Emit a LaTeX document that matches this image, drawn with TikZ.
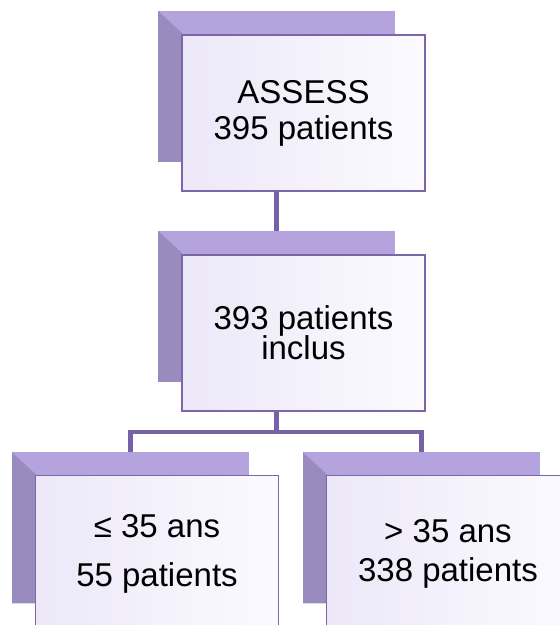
\documentclass[tikz,border=0pt]{standalone}
\usepackage{fontspec}
\setmainfont{Liberation Sans}
\usetikzlibrary{backgrounds, calc}

\definecolor{linkpurple}{HTML}{7860A6}
\definecolor{backtop}{HTML}{B4A3DC}
\definecolor{backside}{HTML}{9A8BBE}
\definecolor{frontedge}{HTML}{7B66A9}
\definecolor{frontleft}{HTML}{ECE8F8}
\definecolor{frontright}{HTML}{FBFAFF}

\begin{document}
\begin{tikzpicture}[
    x=1pt, y=1pt,
    backbox/.style={rectangle, minimum width=237pt, minimum height=151pt,
        inner sep=0pt, fill=backtop,
        path picture={
            \fill[backside] (path picture bounding box.north west)
                -- ++(24pt,-22pt) |- (path picture bounding box.south west)
                -- cycle;
        }},
    frontbox/.style={rectangle, minimum width=243pt, minimum height=156pt,
        inner sep=0pt, draw=frontedge, line width=1.6pt,
        left color=frontleft, right color=frontright,
        align=center, font=\fontsize{33}{36}\selectfont},
    link/.style={draw=linkpurple, line width=4.5pt},
]

% ── Canvas ────────────────────────────────────────────────────────────────────
\path[use as bounding box, clip] (0,0) rectangle (560,625);

% ── Back boxes (bevelled) ─────────────────────────────────────────────────────
\node[backbox] (bassess) at (276.5,538.5) {};
\node[backbox] (bincl)   at (276.5,318.5) {};
\node[backbox] (byoung)  at (130.5,97)    {};
\node[backbox] (bold)    at (421.5,97)    {};

% ── Front boxes ───────────────────────────────────────────────────────────────
\node[frontbox] (assess) at (303.5,512)  {ASSESS\\395 patients};
\node[frontbox] (incl)   at (303.5,292)  {393 patients\\[-6pt]inclus};
\node[frontbox] (young)  at (157,71.5)   {≤ 35 ans\\[13pt]55 patients};
\node[frontbox] (old)    at (448,71.5)   {> 35 ans\\[3pt]338 patients};

% ── Connectors ────────────────────────────────────────────────────────────────
\begin{scope}[on background layer]
    \draw[link] (bassess.south) -- (bincl.north);
    \draw[link] (bincl.south) -- ++(0,-50) coordinate (split);
    \draw[link] (split) -| (byoung.north);
    \draw[link] (split) -| (bold.north);
\end{scope}

\end{tikzpicture}
\end{document}
